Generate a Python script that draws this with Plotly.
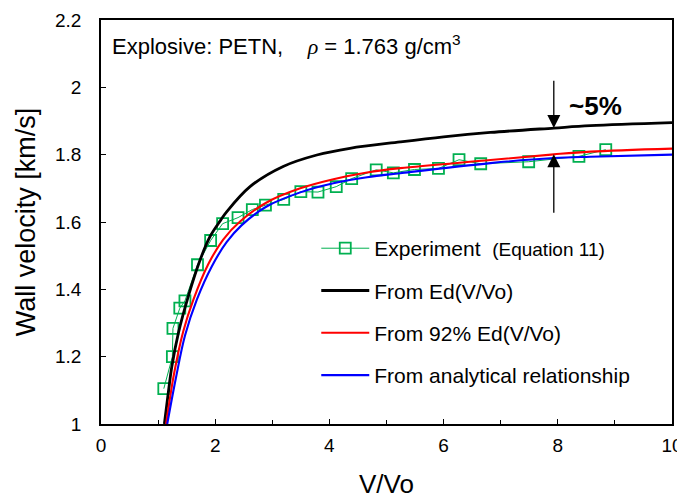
import plotly.graph_objects as go

# ---- data ----
exp_x = [1.10, 1.25, 1.26, 1.38, 1.47, 1.69, 1.92, 2.13, 2.40, 2.65, 2.88, 3.20, 3.50, 3.80,
         4.12, 4.39, 4.82, 5.12, 5.49, 5.91, 6.27, 6.65, 7.49, 8.37, 8.84]
exp_y = [1.105, 1.200, 1.284, 1.344, 1.366, 1.473, 1.545, 1.595, 1.613, 1.637, 1.650, 1.667,
         1.690, 1.689, 1.705, 1.729, 1.755, 1.746, 1.756, 1.759, 1.785, 1.773, 1.779, 1.795, 1.815]

ed_x = [1.11, 1.18, 1.24, 1.355, 1.53, 1.735, 1.91, 2.09, 2.20, 2.61, 3.19, 3.78, 4.36, 5.24,
        6.00, 6.82, 7.93, 8.57, 10.0]
ed_y = [1.000, 1.095, 1.170, 1.270, 1.380, 1.487, 1.557, 1.604, 1.630, 1.705, 1.765, 1.799,
        1.819, 1.838, 1.853, 1.866, 1.879, 1.886, 1.895]

ed92_x = [1.14, 1.28, 1.44, 1.62, 1.88, 2.14, 2.44, 2.90, 3.49, 4.07, 4.66, 5.24, 6.82, 7.93,
          8.57, 10.0]
ed92_y = [1.000, 1.150, 1.275, 1.370, 1.475, 1.548, 1.602, 1.658, 1.700, 1.727, 1.747, 1.760,
          1.784, 1.801, 1.809, 1.818]

ana_x = [1.16, 1.31, 1.47, 1.68, 1.94, 2.20, 2.46, 2.90, 3.49, 4.07, 4.66, 5.24, 6.82, 7.93,
         8.57, 10.0]
ana_y = [1.000, 1.135, 1.262, 1.370, 1.468, 1.540, 1.590, 1.646, 1.688, 1.715, 1.733, 1.745,
         1.775, 1.790, 1.794, 1.800]

x_ticks = [0, 2, 4, 6, 8, 10]
y_ticks = [1, 1.2, 1.4, 1.6, 1.8, 2, 2.2]

FONT = "Liberation Sans, Arial, sans-serif"
NB = "\u00a0"

fig = go.Figure()
fig.add_trace(go.Scatter(
    x=exp_x, y=exp_y, mode="lines+markers",
    name="Experiment" + NB + NB + "<span style='font-family:Liberation Sans Narrow, Arial Narrow, sans-serif;font-size:19px'>(Equation 11)</span>",
    line=dict(color="#00B050", width=1),
    marker=dict(symbol="square-open", size=11, color="#00B050", line=dict(width=1.8, color="#00B050")),
    legendgroup="a"))
fig.add_trace(go.Scatter(
    x=ed_x, y=ed_y, mode="lines", name="From Ed(V/Vo)",
    line=dict(color="black", width=2.8, shape="spline", smoothing=1.0), legendgroup="b"))
fig.add_trace(go.Scatter(
    x=ed92_x, y=ed92_y, mode="lines", name="From 92% Ed(V/Vo)",
    line=dict(color="#FF0000", width=2.1, shape="spline", smoothing=1.0), legendgroup="c"))
fig.add_trace(go.Scatter(
    x=ana_x, y=ana_y, mode="lines", name="From analytical relationship",
    line=dict(color="#0000FF", width=2.1, shape="spline", smoothing=1.0), legendgroup="d"))

axis_common = dict(showline=True, linecolor="black", linewidth=1.5, mirror=True,
                   ticks="inside", ticklen=5, tickwidth=1.2, tickcolor="black",
                   showgrid=False, zeroline=False, automargin=False,
                   tickfont=dict(family=FONT, size=19, color="black"))

fig.update_xaxes(range=[0, 10], tickvals=x_ticks, ticklabelstandoff=3,
                 minor=dict(dtick=1, ticks="inside", ticklen=4, tickcolor="black"),
                 title=dict(text="V/Vo", font=dict(family=FONT, size=26, color="black"), standoff=34),
                 **axis_common)
fig.update_yaxes(range=[1, 2.2], tickvals=y_ticks, ticklabelstandoff=14,
                 title=dict(text="Wall velocity [km/s]", font=dict(family=FONT, size=27, color="black"), standoff=12),
                 **axis_common)

fig.add_annotation(x=7.93, y=1.879, ax=7.93, ay=2.024, xref="x", yref="y", axref="x", ayref="y",
                   text="", showarrow=True, arrowhead=2, arrowsize=2.0, arrowwidth=1.3, arrowcolor="black")
fig.add_annotation(x=7.93, y=1.801, ax=7.93, ay=1.623, xref="x", yref="y", axref="x", ayref="y",
                   text="", showarrow=True, arrowhead=2, arrowsize=2.0, arrowwidth=1.3, arrowcolor="black")
fig.add_annotation(x=8.16, y=1.945, xref="x", yref="y", text="<b>~5%</b>", showarrow=False,
                   xanchor="left", font=dict(family=FONT, size=26, color="black"))
fig.add_annotation(x=0.015, y=0.938, xref="paper", yref="paper", xanchor="left", yanchor="middle",
                   showarrow=False,
                   text="Explosive: PETN," + NB * 4 + "<span style='font-family:Liberation Serif, serif'><i>ρ</i></span> = 1.763 g/cm<sup>3</sup>",
                   font=dict(family=FONT, size=22, color="black"))

# the page body adds an 8 px offset; compensate so the plot frame lands where the reference has it
fig.update_layout(
    width=677, height=491,
    margin=dict(l=93, r=13, t=12, b=75),
    paper_bgcolor="white", plot_bgcolor="white",
    font=dict(family=FONT, color="black"),
    legend=dict(x=0.377, y=0.485, xanchor="left", yanchor="top", bgcolor="rgba(0,0,0,0)",
                font=dict(family=FONT, size=21, color="black"),
                tracegroupgap=12, itemwidth=48, traceorder="grouped"),
    showlegend=True,
)

fig.write_html("out.html")
